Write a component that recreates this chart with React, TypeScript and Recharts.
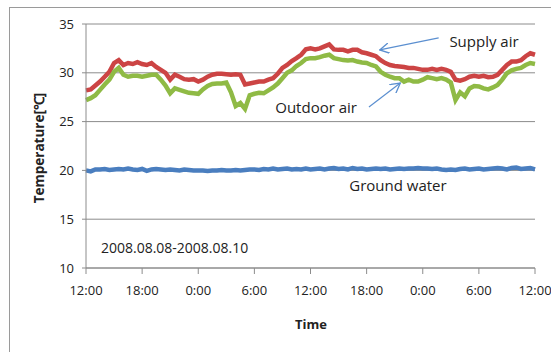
import { LineChart, Line, XAxis, YAxis, CartesianGrid } from 'recharts';

// half-hour samples, starting 2008.08.08 12:00
const supplyAir = [
  28.2, 28.3, 28.7, 29.1, 29.6, 30.1, 31.0, 31.3, 30.8, 31.0, 30.9, 31.1, 30.9,
  30.8, 31.0, 30.6, 30.3, 30.0, 29.3, 29.8, 29.6, 29.35, 29.3, 29.35, 29.1,
  29.3, 29.6, 29.8, 29.9, 29.9, 29.85, 29.8, 29.85, 29.8, 28.8, 28.9, 29.0,
  29.1, 29.1, 29.3, 29.45, 29.9, 30.5, 30.8, 31.2, 31.5, 31.85, 32.4, 32.5,
  32.4, 32.5, 32.7, 32.9, 32.4, 32.35, 32.35, 32.2, 32.35, 32.35, 32.1, 32.0,
  31.85, 31.7, 31.3, 31.0, 30.8, 30.7, 30.65, 30.6, 30.5, 30.5, 30.4, 30.3,
  30.3, 30.4, 30.3, 30.4, 30.3, 30.1, 29.3, 29.2, 29.35, 29.6, 29.7, 29.6,
  29.7, 29.55, 29.6, 29.8, 30.3, 30.8, 31.15, 31.15, 31.3, 31.7, 32.0, 31.85,
];

const outdoorAir = [
  27.2, 27.4, 27.7, 28.25, 28.8, 29.3, 30.1, 30.5, 29.8, 29.6, 29.7, 29.7, 29.6,
  29.7, 29.8, 29.8, 29.3, 28.7, 27.9, 28.4, 28.25, 28.1, 27.95, 27.9, 27.85,
  28.3, 28.65, 28.85, 28.9, 28.9, 29.0, 28.0, 26.6, 26.9, 26.3, 27.7, 27.85,
  27.95, 27.9, 28.2, 28.5, 28.9, 29.45, 30.0, 30.25, 30.7, 31.0, 31.4, 31.5,
  31.5, 31.6, 31.75, 31.85, 31.5, 31.4, 31.3, 31.25, 31.3, 31.15, 31.05, 31.0,
  30.8, 30.65, 30.1, 29.8, 29.6, 29.45, 29.45, 29.1, 29.3, 29.1, 29.1, 29.3,
  29.55, 29.45, 29.35, 29.45, 29.3, 29.0, 27.2, 28.0, 27.6, 28.4, 28.65, 28.6,
  28.4, 28.3, 28.5, 28.75, 29.3, 29.95, 30.25, 30.4, 30.5, 30.8, 31.0, 30.9,
];

const groundWater = [
  20.0, 19.9, 20.1, 20.1, 20.15, 20.05, 20.1, 20.15, 20.1, 20.2, 20.1, 20.05, 20.15,
  19.95, 20.1, 20.15, 20.1, 20.05, 20.1, 20.05, 20.0, 20.1, 20.05, 20.0, 20.0,
  20.0, 19.95, 20.0, 20.0, 20.05, 20.0, 20.0, 20.05, 20.0, 20.05, 20.1, 20.1,
  20.05, 20.15, 20.1, 20.2, 20.1, 20.15, 20.2, 20.1, 20.15, 20.1, 20.2, 20.1,
  20.15, 20.2, 20.1, 20.2, 20.25, 20.15, 20.2, 20.1, 20.25, 20.15, 20.2, 20.1,
  20.15, 20.2, 20.15, 20.2, 20.1, 20.15, 20.2, 20.15, 20.2, 20.2, 20.25, 20.2,
  20.2, 20.15, 20.2, 20.1, 20.05, 20.1, 20.05, 20.15, 20.2, 20.1, 20.15, 20.2,
  20.1, 20.15, 20.2, 20.25, 20.2, 20.1, 20.25, 20.3, 20.15, 20.2, 20.25, 20.1,
];

const timeTicks = [0, 6, 12, 18, 24, 30, 36, 42, 48];
const timeLabels = ['12:00', '18:00', '0:00', '6:00', '12:00', '18:00', '0:00', '6:00', '12:00'];
const tempTicks = [10, 15, 20, 25, 30, 35];

const data = supplyAir.map((v, i) => ({
  hour: i * 0.5,
  supply: v,
  outdoor: outdoorAir[i],
  ground: groundWater[i],
}));

// plot area, used only to place the notes
const L = 86, R = 535, T = 24, B = 268;
const px = (h: number) => L + (h / 48) * (R - L);
const py = (t: number) => T + ((35 - t) / 25) * (B - T);

const font = 'Open Sans';
const arrowColor = '#5b8fd0';

export default function App() {
  return (
    <div style={{ position: 'relative', width: 551, height: 352, background: '#fff', overflow: 'hidden' }}>
      <style>{'body{margin:0;overflow:hidden}'}</style>
      <div style={{ position: 'absolute', left: 9, top: 7, width: 600, height: 400, border: '1px solid #9a9a9a' }} />
      <div style={{ position: 'absolute', left: 0, top: 0 }}>
        <LineChart
          width={551}
          height={352}
          data={data}
          margin={{ top: 24, right: 16, bottom: 54, left: 46 }}
          style={{ fontFamily: font }}
        >
          <CartesianGrid vertical={false} stroke="#8c8c8c" strokeWidth={1} />
          <XAxis
            dataKey="hour"
            type="number"
            domain={[0, 48]}
            ticks={timeTicks}
            tickFormatter={(v: number) => timeLabels[timeTicks.indexOf(v)]}
            height={30}
            tickSize={6}
            tickMargin={12}
            stroke="#8c8c8c"
            tick={{ fontSize: 13, fill: '#222', fontFamily: font }}
            interval={0}
          />
          <YAxis
            type="number"
            domain={[10, 35]}
            ticks={tempTicks}
            width={40}
            tickSize={4}
            tickMargin={8}
            stroke="#8c8c8c"
            tick={{ fontSize: 13, fill: '#222', fontFamily: font }}
            interval={0}
          />
          <Line dataKey="ground" stroke="#4a7ebf" strokeWidth={4.5} dot={false} isAnimationActive={false} />
          <Line dataKey="supply" stroke="#cc4444" strokeWidth={4.5} dot={false} isAnimationActive={false} />
          <Line dataKey="outdoor" stroke="#8fba45" strokeWidth={4.5} dot={false} isAnimationActive={false} />
        </LineChart>
      </div>
      <svg width={551} height={352} style={{ position: 'absolute', left: 0, top: 0, pointerEvents: 'none' }}>
        <defs>
          <marker id="head" viewBox="0 0 10 10" refX="9" refY="5" markerWidth="9" markerHeight="9" orient="auto">
            <path d="M0,0 L9,5 L0,10" fill="none" stroke={arrowColor} strokeWidth={1.2} />
          </marker>
        </defs>
        <line x1={px(37.7)} y1={py(33.57)} x2={px(31.4)} y2={py(32.34)} stroke={arrowColor} strokeWidth={1.2} markerEnd="url(#head)" />
        <line x1={px(30.25)} y1={py(26.5)} x2={px(33.6)} y2={py(28.95)} stroke={arrowColor} strokeWidth={1.2} markerEnd="url(#head)" />
        <g fontFamily={font} fill="#222" fontSize={15}>
          <text x={px(42.55)} y={py(33.26)} textAnchor="middle" dominantBaseline="central">Supply air</text>
          <text x={px(24.6)} y={py(26.5)} textAnchor="middle" dominantBaseline="central">Outdoor air</text>
          <text x={px(33.35)} y={py(18.5)} textAnchor="middle" dominantBaseline="central">Ground water</text>
          <text x={px(1.6)} y={py(12.05)} fontSize={14} dominantBaseline="central">2008.08.08-2008.08.10</text>
        </g>
        <text x={39} y={148} fontFamily={font} fontWeight="bold" fontSize={13.5} fill="#222" textAnchor="middle" dominantBaseline="central" transform="rotate(-90 39 148)">
          Temperature[℃]
        </text>
        <text x={311} y={324} fontFamily={font} fontWeight="bold" fontSize={13} fill="#222" textAnchor="middle" dominantBaseline="central">
          Time
        </text>
      </svg>
    </div>
  );
}
